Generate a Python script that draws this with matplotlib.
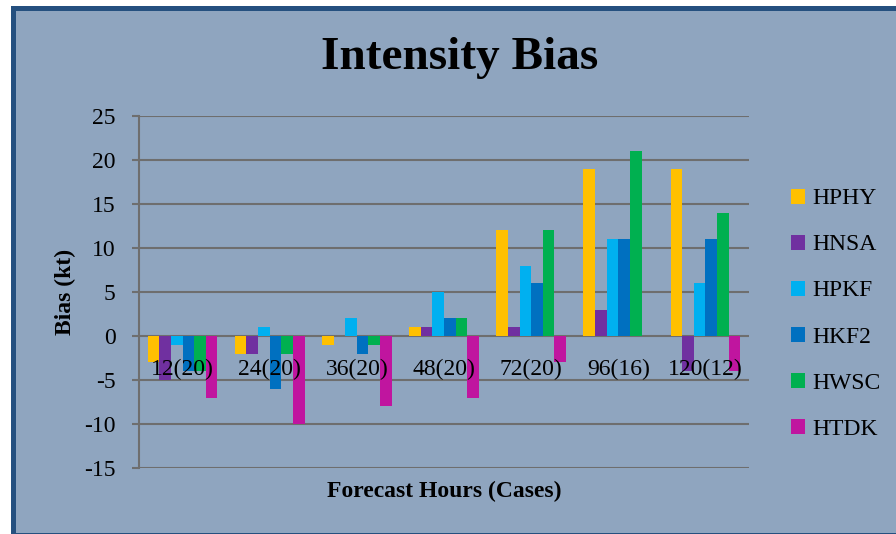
import numpy as np
import matplotlib
matplotlib.use("Agg")
import matplotlib.pyplot as plt
from matplotlib.patches import Patch, Rectangle

# forecast lead time with number of cases
categories = ["12(20)", "24(20)", "36(20)", "48(20)", "72(20)", "96(16)", "120(12)"]
models = ["HPHY", "HNSA", "HPKF", "HKF2", "HWSC", "HTDK"]

hphy = [-3, -2, -1, 1, 12, 19, 19]
hnsa = [-5, -2, 0, 1, 1, 3, -4]
hpkf = [-1, 1, 2, 5, 8, 11, 6]
hkf2 = [-4, -6, -2, 2, 6, 11, 11]
hwsc = [-4, -2, -1, 2, 12, 21, 14]
htdk = [-7, -10, -8, -7, -3, 0, -4]

colors = ["#FFC000", "#7030A0", "#00B0F0", "#0070C0", "#00B050", "#C0159F"]
yticks = [-15, -10, -5, 0, 5, 10, 15, 20, 25]

bg = "#8FA5BF"
grid_col = "#6E6E6E"
plt.rcParams["font.family"] = ["Liberation Serif", "DejaVu Serif"]

W, H = 896, 534
fig = plt.figure(figsize=(W / 100, H / 100), dpi=100, facecolor="white")

# dark blue frame round the whole chart area
fig.patches.append(Rectangle((12.5 / W, -1 / H), (W + 10) / W, (H - 7.5 + 1) / H,
                             transform=fig.transFigure, facecolor=bg,
                             edgecolor="#25507F", linewidth=3.6, zorder=-5))

ax = fig.add_axes([139 / W, 66 / H, 610 / W, 352 / H])
ax.set_facecolor("none")

series = [hphy, hnsa, hpkf, hkf2, hwsc, htdk]
x = np.arange(len(categories))
w = 0.8 / len(models)
for i, (vals, c) in enumerate(zip(series, colors)):
    ax.bar(x + (i - 2.5) * w, vals, width=w, color=c, zorder=3)

ax.set_xlim(-0.5, len(categories) - 0.5)
ax.set_ylim(-15, 25)
ax.set_yticks(yticks)
ax.set_yticklabels([str(t) for t in yticks], fontsize=17)
ax.set_xticks([])

ax.yaxis.grid(True, color=grid_col, linewidth=1.5, zorder=1)
ax.set_axisbelow(True)
for s in ["top", "right", "bottom"]:
    ax.spines[s].set_visible(False)
ax.spines["left"].set_color(grid_col)
ax.spines["left"].set_linewidth(1.5)
ax.spines["left"].set_zorder(2)
ax.tick_params(axis="y", length=5, width=1.5, color=grid_col, pad=12)

# category labels sit just under the zero line
for xi, lab in zip(x, categories):
    ax.annotate(lab, xy=(xi, 0), xytext=(0, -24), textcoords="offset points",
                ha="center", va="center", fontsize=17, zorder=4)

ax.set_ylabel("Bias (kt)", fontsize=17, fontweight="bold", labelpad=5.5)
ax.set_xlabel("Forecast Hours (Cases)", fontsize=17, fontweight="bold", labelpad=9)
fig.text(460 / W, 1 - 58 / H, "Intensity Bias", ha="center", va="center",
         fontsize=34, fontweight="bold")

handles = [Patch(facecolor=c, edgecolor="none") for c in colors]
fig.legend(handles, models, loc="center left", bbox_to_anchor=(791 / W, 1 - 314 / H),
           bbox_transform=fig.transFigure, frameon=False, fontsize=17,
           handlelength=0.6, handleheight=0.6, handletextpad=0.3,
           labelspacing=1.06, borderpad=0, borderaxespad=0)

plt.savefig("out.png", dpi=100, facecolor=fig.get_facecolor())
